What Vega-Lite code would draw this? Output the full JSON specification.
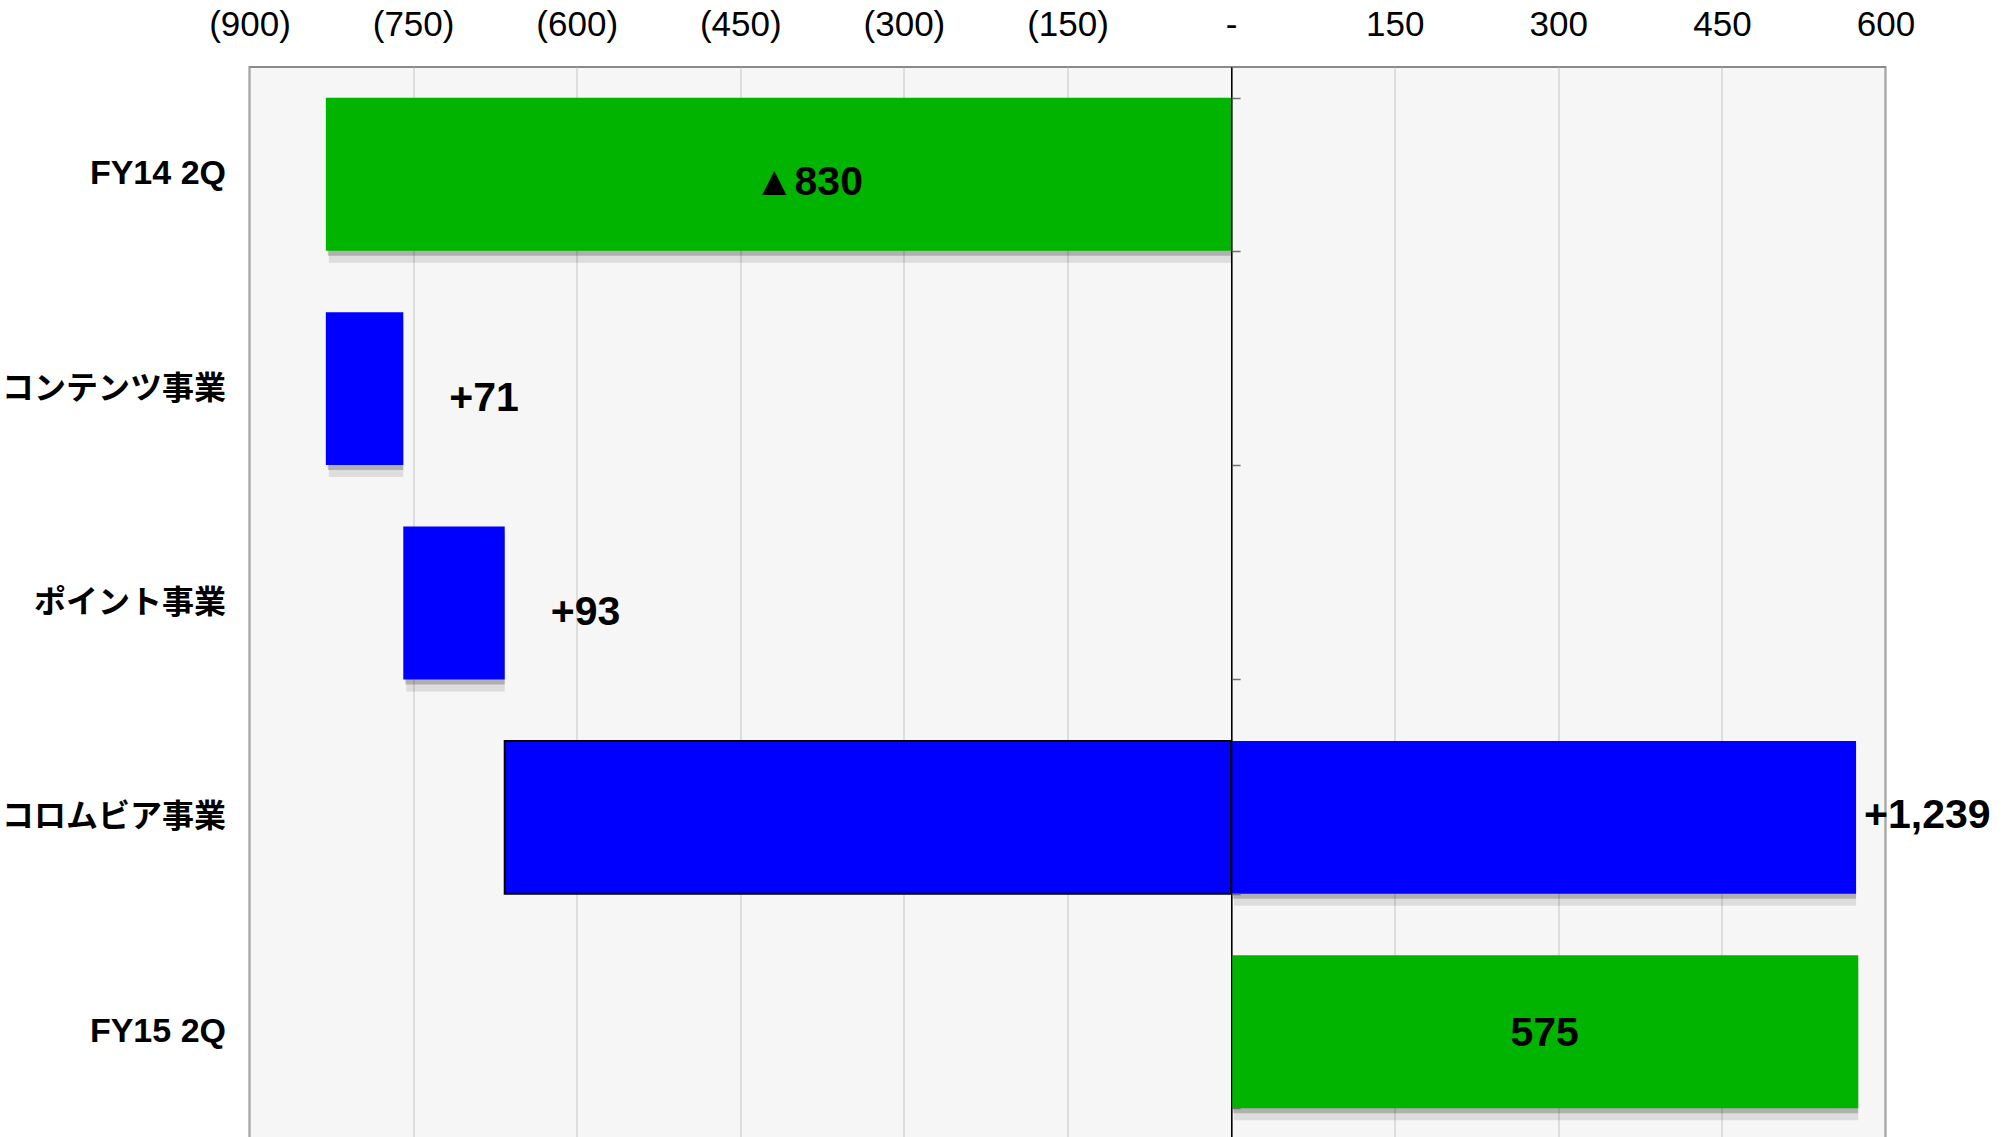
{
  "$schema": "https://vega.github.io/schema/vega-lite/v6.json",
  "width": 1636,
  "height": 1072,
  "autosize": {"type": "none"},
  "padding": {"left": 249.5, "top": 67, "right": 129, "bottom": 0},
  "background": "white",
  "config": {
    "view": {"fill": "#f6f6f6", "stroke": "#8a8a8a", "strokeWidth": 2},
    "font": "Liberation Sans"
  },
  "data": {
    "values": [
      {"cat": "FY14 2Q", "start": -830, "end": 0, "label": "▲830", "kind": "total", "seg": "all"},
      {"cat": "コンテンツ事業", "start": -830, "end": -759, "label": "+71", "kind": "delta", "seg": "all"},
      {"cat": "ポイント事業", "start": -759, "end": -666, "label": "+93", "kind": "delta", "seg": "all"},
      {"cat": "コロムビア事業", "start": -666, "end": 0, "label": "", "kind": "delta", "seg": "neg"},
      {"cat": "コロムビア事業", "start": 0, "end": 573, "label": "+1,239", "kind": "delta", "seg": "pos"},
      {"cat": "FY15 2Q", "start": 0, "end": 575, "label": "575", "kind": "total", "seg": "all"}
    ]
  },
  "resolve": {"axis": {"y": "independent"}},
  "encoding": {
    "y": {
      "field": "cat",
      "type": "nominal",
      "scale": {"domain": ["FY14 2Q", "コンテンツ事業", "ポイント事業", "コロムビア事業", "FY15 2Q"], "paddingInner": 0.287, "paddingOuter": 0.1435},
      "axis": null
    }
  },
  "layer": [
    {
      "transform": [{"filter": "datum.seg !== 'neg'"}],
      "mark": {"type": "bar", "color": "#000000", "opacity": 0.2, "xOffset": 2, "yOffset": 5},
      "encoding": {
        "x": {"field": "start", "type": "quantitative", "scale": {"domain": [-900, 600], "nice": false, "zero": false}},
        "x2": {"field": "end"}
      }
    },
    {
      "transform": [{"filter": "datum.seg !== 'neg'"}],
      "mark": {"type": "bar", "color": "#000000", "opacity": 0.1, "xOffset": 3, "yOffset": 12},
      "encoding": {
        "x": {"field": "start", "type": "quantitative"},
        "x2": {"field": "end"}
      }
    },
    {
      "mark": {"type": "bar"},
      "encoding": {
        "y": {
          "field": "cat",
          "type": "nominal",
          "scale": {"domain": ["FY14 2Q", "コンテンツ事業", "ポイント事業", "コロムビア事業", "FY15 2Q"], "paddingInner": 0.287, "paddingOuter": 0.1435},
          "axis": {
            "orient": "left",
            "title": null,
            "domain": false,
            "ticks": false,
            "grid": false,
            "labelFontSize": {"condition": {"test": "datum.label === 'FY14 2Q' || datum.label === 'FY15 2Q'", "value": 34}, "value": 32},
            "labelFontWeight": "bold",
            "labelFont": "Liberation Sans, Noto Sans CJK JP",
            "labelColor": "#000000",
            "labelPadding": 24,
            "labelLimit": 400
          }
        },
        "x": {
          "field": "start",
          "type": "quantitative",
          "scale": {"domain": [-900, 600], "nice": false, "zero": false},
          "axis": {
            "orient": "top",
            "title": null,
            "values": [-900, -750, -600, -450, -300, -150, 0, 150, 300, 450, 600],
            "labelExpr": "datum.value < 0 ? '(' + format(-datum.value, ',') + ')' : (datum.value === 0 ? '-' : format(datum.value, ','))",
            "domain": false,
            "ticks": false,
            "tickSize": 0,
            "grid": true,
            "gridColor": {"condition": {"test": "datum.value === 0", "value": "#000000"}, "value": "#c4c4c4"},
            "gridWidth": 1,
            "labelFontSize": 35,
            "labelFont": "Liberation Sans",
            "labelColor": "#000000",
            "labelPadding": 25,
            "labelFlush": false
          }
        },
        "x2": {"field": "end"},
        "color": {
          "field": "kind",
          "type": "nominal",
          "scale": {"domain": ["total", "delta"], "range": ["#00B400", "#0000FF"]},
          "legend": null
        }
      }
    },
    {
      "transform": [{"filter": "datum.seg === 'neg'"}],
      "mark": {"type": "bar", "fill": null, "fillOpacity": 0, "stroke": "#000000", "strokeWidth": 2},
      "encoding": {
        "y": {
          "field": "cat",
          "type": "nominal",
          "scale": {"domain": ["FY14 2Q", "コンテンツ事業", "ポイント事業", "コロムビア事業", "FY15 2Q"], "paddingInner": 0.287, "paddingOuter": 0.1435},
          "axis": {
            "orient": "right",
            "offset": -654.4,
            "title": null,
            "labels": false,
            "grid": false,
            "domain": true,
            "domainColor": "#000000",
            "domainWidth": 1.2,
            "ticks": true,
            "tickBand": "extent",
            "tickSize": 9,
            "tickColor": "#707070",
            "tickWidth": 1.5,
            "zindex": 1
          }
        },
        "x": {"field": "start", "type": "quantitative"},
        "x2": {"field": "end"}
      }
    },
    {
      "transform": [
        {"filter": "datum.cat === 'FY14 2Q'"},
        {"fold": ["start", "end"], "as": ["edge", "value"]},
        {"aggregate": [{"op": "mean", "field": "value", "as": "mid"}], "groupby": ["cat", "label"]}
      ],
      "mark": {"type": "text", "fontSize": 41, "fontWeight": "bold", "font": "Liberation Sans, DejaVu Sans", "align": "center", "baseline": "middle", "dx": 30, "dy": 9, "color": "#000000"},
      "encoding": {
        "x": {"field": "mid", "type": "quantitative"},
        "text": {"field": "label"}
      }
    },
    {
      "transform": [
        {"filter": "datum.cat === 'FY15 2Q'"},
        {"fold": ["start", "end"], "as": ["edge", "value"]},
        {"aggregate": [{"op": "mean", "field": "value", "as": "mid"}], "groupby": ["cat", "label"]}
      ],
      "mark": {"type": "text", "fontSize": 41, "fontWeight": "bold", "font": "Liberation Sans", "align": "center", "baseline": "middle", "dy": 2, "color": "#000000"},
      "encoding": {
        "x": {"field": "mid", "type": "quantitative"},
        "text": {"field": "label"}
      }
    },
    {
      "transform": [{"filter": "datum.kind === 'delta' && datum.cat !== 'コロムビア事業'"}],
      "mark": {"type": "text", "fontSize": 41, "fontWeight": "bold", "font": "Liberation Sans", "align": "left", "baseline": "middle", "dx": 46, "dy": 10, "color": "#000000"},
      "encoding": {
        "x": {"field": "end", "type": "quantitative"},
        "text": {"field": "label"}
      }
    },
    {
      "transform": [{"filter": "datum.seg === 'pos'"}],
      "mark": {"type": "text", "fontSize": 41, "fontWeight": "bold", "font": "Liberation Sans", "align": "left", "baseline": "middle", "dx": 8, "dy": -1, "color": "#000000"},
      "encoding": {
        "x": {"field": "end", "type": "quantitative"},
        "text": {"field": "label"}
      }
    }
  ]
}
